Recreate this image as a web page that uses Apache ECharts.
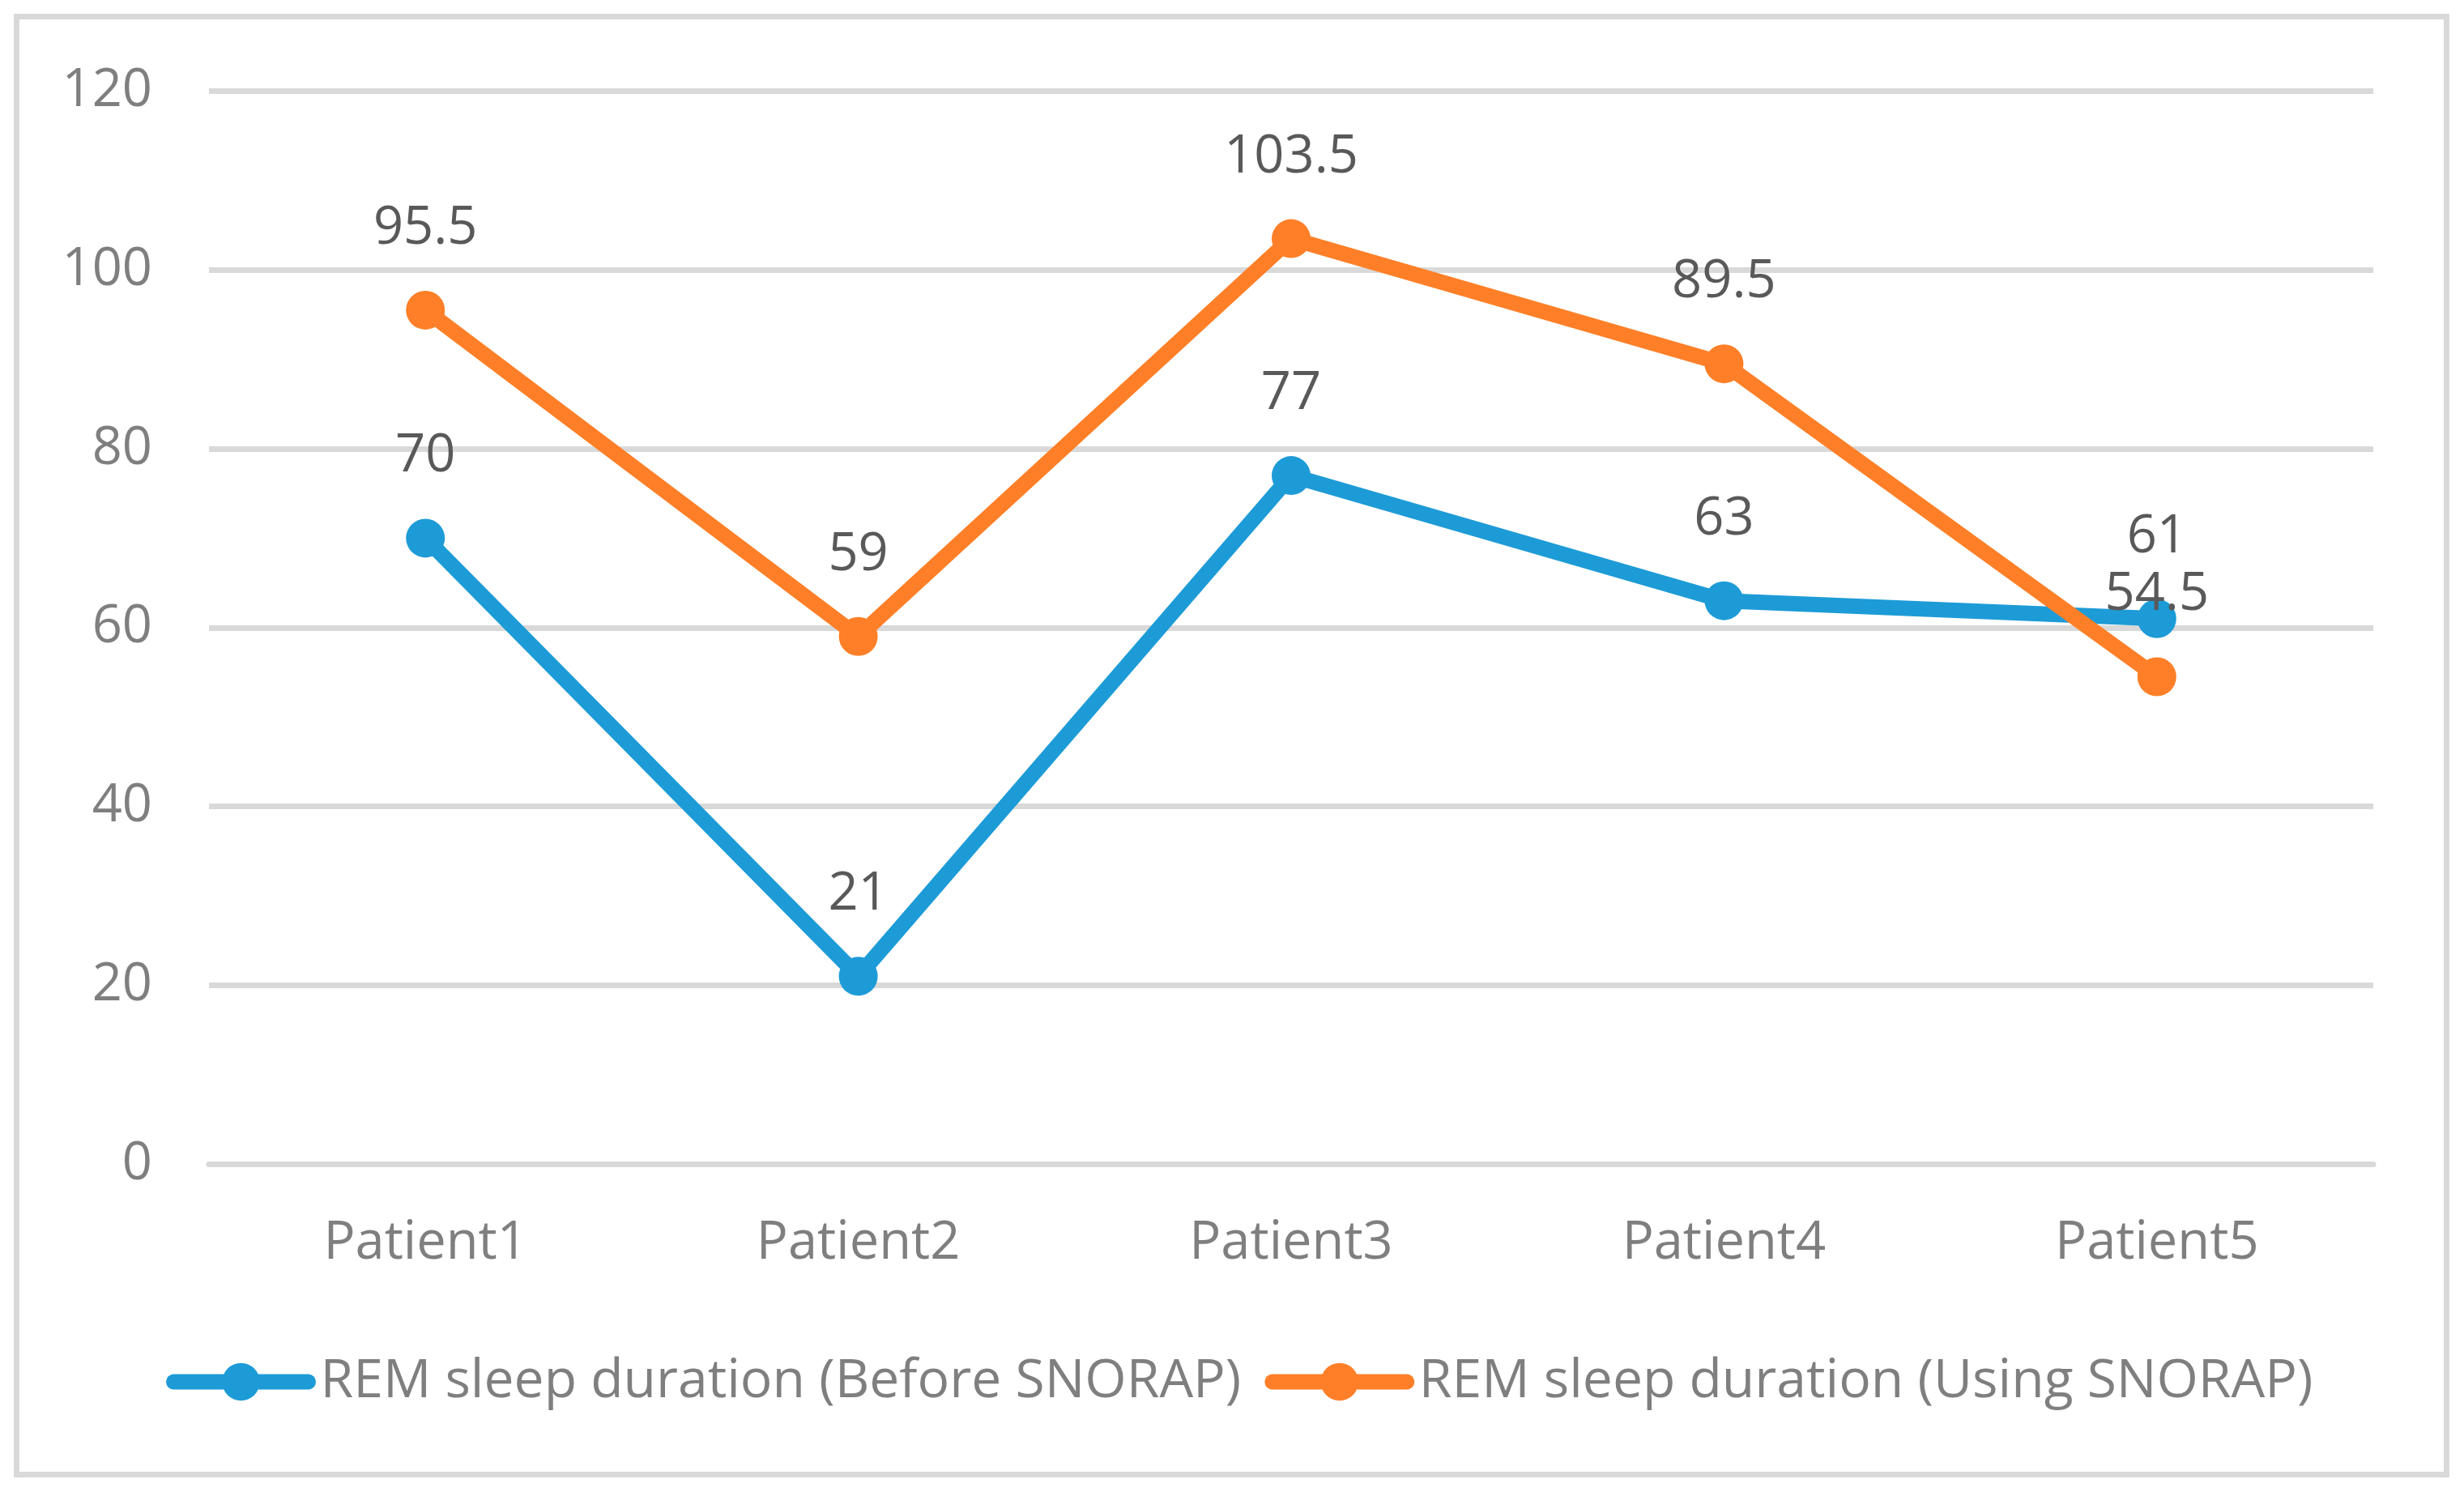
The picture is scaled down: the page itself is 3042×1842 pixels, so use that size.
<!DOCTYPE html>
<html>
<head>
<meta charset="utf-8">
<script src="https://cdn.jsdelivr.net/npm/echarts@6/dist/echarts.min.js"></script>
<style>
html,body{margin:0;padding:0;background:#fff;}
#c{width:3042px;height:1842px;}
</style>
</head>
<body>
<div id="c"></div>
<script>
const categories = ['Patient1', 'Patient2', 'Patient3', 'Patient4', 'Patient5'];
const beforeName = 'REM sleep duration (Before SNORAP)';
const usingName = 'REM sleep duration (Using SNORAP)';
const beforeValues = [70, 21, 77, 63, 61];
const usingValues = [95.5, 59, 103.5, 89.5, 54.5];
const yTicks = { min: 0, max: 120, interval: 20 };

const FONT = '"Open Sans", "Noto Sans", sans-serif';
const chart = echarts.init(document.getElementById('c'), null, { renderer: 'canvas' });

function lineSeries(name, data, color) {
  return {
    name: name,
    type: 'line',
    data: data,
    symbol: 'circle',
    symbolSize: 48,
    lineStyle: { color: color, width: 19, cap: 'round', join: 'round' },
    itemStyle: { color: color },
    label: {
      show: true,
      position: 'top',
      distance: 44,
      color: '#595959',
      fontFamily: FONT,
      fontSize: 65
    },
    emphasis: { disabled: true },
    animation: false
  };
}

chart.setOption({
  backgroundColor: '#ffffff',
  animation: false,
  graphic: [{
    type: 'rect',
    shape: { x: 20.5, y: 20.5, width: 3000, height: 1800 },
    style: { fill: 'none', stroke: '#d9d9d9', lineWidth: 7 },
    silent: true,
    z: -10
  }],
  grid: { left: 258, right: 112, top: 112.5, bottom: 405, containLabel: false },
  legend: {
    data: [beforeName, usingName],
    left: 200,
    top: 1668,
    itemWidth: 166,
    itemHeight: 58,
    itemGap: 29,
    lineStyle: { width: 19, cap: 'round' },
    textStyle: { color: '#7f7f7f', fontFamily: FONT, fontSize: 66, padding: [0, 0, 0, 10] }
  },
  xAxis: {
    type: 'category',
    data: categories,
    boundaryGap: true,
    axisLine: { show: true, lineStyle: { color: '#d9d9d9', width: 7 } },
    axisTick: { show: false },
    axisLabel: { color: '#7f7f7f', fontFamily: FONT, fontSize: 65, margin: 66 },
    splitLine: { show: false }
  },
  yAxis: {
    type: 'value',
    min: yTicks.min,
    max: yTicks.max,
    interval: yTicks.interval,
    axisLine: { show: false },
    axisTick: { show: false },
    axisLabel: { color: '#7f7f7f', fontFamily: FONT, fontSize: 65, margin: 70 },
    splitLine: { show: true, lineStyle: { color: '#d9d9d9', width: 7 } }
  },
  series: [
    lineSeries(beforeName, beforeValues, '#1d9bd7'),
    lineSeries(usingName, usingValues, '#fe7f27')
  ]
});
</script>
</body>
</html>
